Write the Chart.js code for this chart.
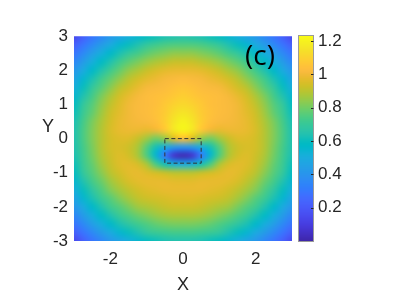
<!DOCTYPE html>
<html>
<head>
<meta charset="utf-8">
<script src="https://cdn.jsdelivr.net/npm/chart.js@4.4.1/dist/chart.umd.min.js"></script>
<style>
  html, body { margin: 0; padding: 0; background: #fff; }
  #wrap { width: 395px; height: 297px; }
</style>
</head>
<body>
<div id="wrap"><canvas id="chart" width="395" height="297"></canvas></div>
<script>
// ================================================
// Data
// ================================================

// grid nodes, x left->right, y top->bottom
const xNodes = [-3, -2.75, -2.5, -2.25, -2, -1.75, -1.5, -1.25, -1, -0.75, -0.5, -0.25, 0,
                0.25, 0.5, 0.75, 1, 1.25, 1.5, 1.75, 2, 2.25, 2.5, 2.75, 3];
const yNodes = [3, 2.75, 2.5, 2.25, 2, 1.75, 1.5, 1.25, 1, 0.75, 0.5, 0.25, 0,
                -0.25, -0.5, -0.75, -1, -1.25, -1.5, -1.75, -2, -2.25, -2.5, -2.75, -3];

// field value at each node, one row per yNodes entry
const field = [
  [0.14,0.22,0.29,0.35,0.41,0.46,0.51,0.55,0.59,0.61,0.63,0.64,0.65,0.64,0.63,0.61,0.59,0.55,0.51,0.46,0.41,0.35,0.29,0.22,0.14],
  [0.22,0.29,0.36,0.43,0.49,0.55,0.60,0.64,0.69,0.72,0.74,0.75,0.75,0.75,0.74,0.72,0.69,0.64,0.60,0.55,0.49,0.43,0.36,0.29,0.22],
  [0.29,0.36,0.44,0.51,0.57,0.63,0.69,0.73,0.77,0.80,0.82,0.84,0.84,0.84,0.82,0.80,0.77,0.73,0.69,0.63,0.57,0.51,0.44,0.36,0.29],
  [0.35,0.43,0.51,0.58,0.64,0.72,0.77,0.81,0.85,0.88,0.90,0.92,0.92,0.92,0.90,0.88,0.85,0.81,0.77,0.72,0.64,0.58,0.51,0.43,0.35],
  [0.41,0.49,0.57,0.64,0.72,0.78,0.84,0.88,0.92,0.95,0.97,0.98,0.98,0.98,0.97,0.95,0.92,0.88,0.84,0.78,0.72,0.64,0.57,0.49,0.41],
  [0.46,0.55,0.63,0.72,0.78,0.84,0.90,0.94,0.97,0.99,1.01,1.02,1.03,1.02,1.01,0.99,0.97,0.94,0.90,0.84,0.78,0.72,0.63,0.55,0.46],
  [0.51,0.60,0.69,0.76,0.83,0.90,0.94,0.98,1.01,1.02,1.03,1.05,1.06,1.05,1.03,1.02,1.01,0.98,0.94,0.90,0.83,0.76,0.69,0.60,0.51],
  [0.55,0.64,0.73,0.81,0.88,0.94,0.98,1.01,1.03,1.04,1.05,1.07,1.09,1.07,1.05,1.04,1.03,1.01,0.98,0.94,0.88,0.81,0.73,0.64,0.55],
  [0.59,0.69,0.76,0.84,0.91,0.96,1.00,1.02,1.03,1.04,1.07,1.10,1.12,1.10,1.07,1.04,1.03,1.02,1.00,0.96,0.91,0.84,0.76,0.69,0.59],
  [0.61,0.71,0.78,0.86,0.93,0.97,1.00,1.02,1.03,1.05,1.08,1.13,1.16,1.13,1.08,1.05,1.03,1.02,1.00,0.97,0.93,0.86,0.78,0.71,0.61],
  [0.63,0.73,0.81,0.88,0.94,0.98,1.00,1.01,1.02,1.04,1.09,1.16,1.20,1.16,1.09,1.04,1.02,1.01,1.00,0.98,0.94,0.88,0.81,0.73,0.63],
  [0.64,0.74,0.82,0.89,0.95,0.98,0.99,0.99,0.98,1.00,1.07,1.17,1.21,1.17,1.07,1.00,0.98,0.99,0.99,0.98,0.95,0.89,0.82,0.74,0.64],
  [0.64,0.74,0.82,0.89,0.94,0.96,0.96,0.92,0.86,0.80,0.85,0.96,1.04,0.96,0.85,0.80,0.86,0.92,0.96,0.96,0.94,0.89,0.82,0.74,0.64],
  [0.64,0.73,0.81,0.89,0.94,0.95,0.93,0.88,0.76,0.62,0.50,0.42,0.40,0.42,0.50,0.62,0.76,0.88,0.93,0.95,0.94,0.89,0.81,0.73,0.64],
  [0.63,0.72,0.80,0.88,0.93,0.96,0.94,0.88,0.75,0.55,0.30,0.06,0.02,0.06,0.30,0.55,0.75,0.88,0.94,0.96,0.93,0.88,0.80,0.72,0.63],
  [0.61,0.71,0.78,0.86,0.92,0.96,0.97,0.95,0.88,0.74,0.62,0.52,0.50,0.52,0.62,0.74,0.88,0.95,0.97,0.96,0.92,0.86,0.78,0.71,0.61],
  [0.59,0.69,0.76,0.83,0.90,0.94,0.97,0.98,0.96,0.94,0.92,0.90,0.90,0.90,0.92,0.94,0.96,0.98,0.97,0.94,0.90,0.83,0.76,0.69,0.59],
  [0.55,0.64,0.73,0.79,0.86,0.91,0.95,0.97,0.98,0.98,0.98,0.97,0.97,0.97,0.98,0.98,0.98,0.97,0.95,0.91,0.86,0.79,0.73,0.64,0.55],
  [0.51,0.60,0.68,0.75,0.82,0.87,0.91,0.94,0.96,0.97,0.98,0.98,0.98,0.98,0.98,0.97,0.96,0.94,0.91,0.87,0.82,0.75,0.68,0.60,0.51],
  [0.46,0.55,0.63,0.71,0.76,0.82,0.87,0.91,0.93,0.94,0.95,0.96,0.96,0.96,0.95,0.94,0.93,0.91,0.87,0.82,0.76,0.71,0.63,0.55,0.46],
  [0.41,0.49,0.57,0.64,0.72,0.76,0.81,0.86,0.88,0.90,0.92,0.93,0.93,0.93,0.92,0.90,0.88,0.86,0.81,0.76,0.72,0.64,0.57,0.49,0.41],
  [0.35,0.43,0.51,0.58,0.64,0.71,0.75,0.79,0.82,0.85,0.87,0.88,0.88,0.88,0.87,0.85,0.82,0.79,0.75,0.71,0.64,0.58,0.51,0.43,0.35],
  [0.29,0.36,0.44,0.51,0.57,0.63,0.68,0.72,0.75,0.78,0.80,0.81,0.81,0.81,0.80,0.78,0.75,0.72,0.68,0.63,0.57,0.51,0.44,0.36,0.29],
  [0.22,0.29,0.36,0.43,0.49,0.55,0.60,0.64,0.69,0.71,0.72,0.73,0.73,0.73,0.72,0.71,0.69,0.64,0.60,0.55,0.49,0.43,0.36,0.29,0.22],
  [0.14,0.22,0.29,0.35,0.41,0.46,0.51,0.55,0.59,0.61,0.63,0.64,0.64,0.64,0.63,0.61,0.59,0.55,0.51,0.46,0.41,0.35,0.29,0.22,0.14]
];

const xTicks = [-2, 0, 2];
const yTicks = [-3, -2, -1, 0, 1, 2, 3];
const cbTicks = [0.2, 0.4, 0.6, 0.8, 1, 1.2];
const cbRange = [0, 1.23];

// dashed box corners
const boxX = [-0.5, 0.5];
const boxY = [-0.72, 0];

const panelLabel = '(c)';

// ================================================
// Parula colormap (R2017a+)
// ================================================

const PARULA = [
  [0.2422,0.1504,0.6603],[0.2504,0.1650,0.7076],[0.2578,0.1818,0.7511],[0.2647,0.1978,0.7952],
  [0.2706,0.2147,0.8364],[0.2751,0.2342,0.8710],[0.2783,0.2559,0.8991],[0.2803,0.2782,0.9221],
  [0.2813,0.3006,0.9414],[0.2810,0.3228,0.9579],[0.2795,0.3447,0.9717],[0.2760,0.3667,0.9829],
  [0.2699,0.3892,0.9906],[0.2602,0.4123,0.9952],[0.2440,0.4358,0.9988],[0.2206,0.4603,0.9973],
  [0.1963,0.4847,0.9892],[0.1834,0.5074,0.9798],[0.1786,0.5289,0.9682],[0.1764,0.5499,0.9520],
  [0.1687,0.5703,0.9359],[0.1540,0.5902,0.9218],[0.1460,0.6091,0.9079],[0.1380,0.6276,0.8973],
  [0.1248,0.6459,0.8883],[0.1113,0.6635,0.8763],[0.0952,0.6798,0.8598],[0.0689,0.6948,0.8394],
  [0.0297,0.7082,0.8163],[0.0036,0.7203,0.7917],[0.0067,0.7312,0.7660],[0.0433,0.7411,0.7394],
  [0.0964,0.7500,0.7120],[0.1408,0.7584,0.6842],[0.1717,0.7670,0.6554],[0.1938,0.7758,0.6251],
  [0.2161,0.7843,0.5923],[0.2470,0.7918,0.5567],[0.2906,0.7973,0.5188],[0.3406,0.8008,0.4789],
  [0.3909,0.8029,0.4354],[0.4456,0.8024,0.3909],[0.5044,0.7993,0.3480],[0.5616,0.7942,0.3045],
  [0.6174,0.7876,0.2612],[0.6720,0.7793,0.2227],[0.7242,0.7698,0.1910],[0.7738,0.7598,0.1646],
  [0.8203,0.7498,0.1535],[0.8634,0.7406,0.1596],[0.9035,0.7330,0.1774],[0.9393,0.7288,0.2100],
  [0.9728,0.7298,0.2394],[0.9956,0.7434,0.2371],[0.9970,0.7659,0.2199],[0.9952,0.7893,0.2028],
  [0.9892,0.8136,0.1885],[0.9786,0.8386,0.1766],[0.9676,0.8639,0.1643],[0.9610,0.8890,0.1537],
  [0.9597,0.9135,0.1423],[0.9628,0.9373,0.1265],[0.9691,0.9606,0.1064],[0.9769,0.9839,0.0805]
];

function parula(v) {
  let t = (v - cbRange[0]) / (cbRange[1] - cbRange[0]);
  t = Math.min(1, Math.max(0, t)) * (PARULA.length - 1);
  const i = Math.min(PARULA.length - 2, Math.floor(t));
  const f = t - i;
  return PARULA[i].map((c, k) => Math.round(255 * (c + (PARULA[i + 1][k] - c) * f)));
}

// ================================================
// Plugins
// ================================================

const TEXT = '#262626';
const FONT = '"Liberation Sans", Arial, Helvetica, sans-serif';

// smooth image of the field, placed with the x/y scales
const heatmapPlugin = {
  id: 'heatmap',
  beforeDatasetsDraw(chart) {
    const { ctx, chartArea, scales } = chart;
    const nx = xNodes.length, ny = yNodes.length;
    const off = document.createElement('canvas');
    off.width = nx;
    off.height = ny;
    const octx = off.getContext('2d');
    const img = octx.createImageData(nx, ny);
    field.forEach((row, j) => {
      row.forEach((v, i) => {
        const c = parula(v);
        const k = (j * nx + i) * 4;
        img.data[k] = c[0];
        img.data[k + 1] = c[1];
        img.data[k + 2] = c[2];
        img.data[k + 3] = 255;
      });
    });
    octx.putImageData(img, 0, 0);

    const hx = (xNodes[1] - xNodes[0]) / 2;
    const hy = (yNodes[0] - yNodes[1]) / 2;
    const left = scales.x.getPixelForValue(xNodes[0] - hx);
    const right = scales.x.getPixelForValue(xNodes[nx - 1] + hx);
    const top = scales.y.getPixelForValue(yNodes[0] + hy);
    const bottom = scales.y.getPixelForValue(yNodes[ny - 1] - hy);

    ctx.save();
    ctx.beginPath();
    ctx.rect(chartArea.left, chartArea.top, chartArea.width, chartArea.height);
    ctx.clip();
    ctx.imageSmoothingEnabled = true;
    ctx.imageSmoothingQuality = 'high';
    ctx.drawImage(off, left, top, right - left, bottom - top);

    // dashed box
    const bx0 = scales.x.getPixelForValue(boxX[0]);
    const bx1 = scales.x.getPixelForValue(boxX[1]);
    const by0 = scales.y.getPixelForValue(boxY[1]);
    const by1 = scales.y.getPixelForValue(boxY[0]);
    ctx.strokeStyle = '#333333';
    ctx.lineWidth = 1;
    ctx.setLineDash([4, 2.5]);
    ctx.strokeRect(bx0, by0, bx1 - bx0, by1 - by0);
    ctx.restore();
  }
};

// colour bar strip, titles and panel label
const decorPlugin = {
  id: 'decor',
  afterDraw(chart) {
    const { ctx, chartArea, scales } = chart;
    const cb = scales.cb;
    const x0 = cb.left + 7;
    const w = 14;

    ctx.save();
    for (let py = Math.floor(cb.top); py < Math.ceil(cb.bottom); py++) {
      const c = parula(cb.getValueForPixel(py + 0.5));
      ctx.fillStyle = `rgb(${c[0]},${c[1]},${c[2]})`;
      ctx.fillRect(x0, py, w, 1);
    }
    ctx.strokeStyle = '#9a9a9a';
    ctx.lineWidth = 1;
    ctx.strokeRect(x0 - 0.5, Math.floor(cb.top) - 0.5, w + 1, Math.ceil(cb.bottom) - Math.floor(cb.top) + 1);

    // small inward ticks on the right edge
    ctx.strokeStyle = TEXT;
    cbTicks.forEach(v => {
      const py = Math.round(cb.getPixelForValue(v)) + 0.5;
      ctx.beginPath();
      ctx.moveTo(x0 + w + 0.5, py);
      ctx.lineTo(x0 + w - 2, py);
      ctx.stroke();
    });

    // axis titles
    ctx.fillStyle = TEXT;
    ctx.font = '18px ' + FONT;
    ctx.textAlign = 'center';
    ctx.textBaseline = 'middle';
    ctx.fillText('Y', chartArea.left - 26, chartArea.top + chartArea.height * 0.445);
    ctx.fillText('X', (chartArea.left + chartArea.right) / 2, chartArea.bottom + 44);

    // panel label
    ctx.fillStyle = '#000000';
    ctx.font = '28px "Open Sans", "Noto Sans", sans-serif';
    ctx.fillText(panelLabel, chartArea.right - 32, chartArea.top + 21);
    ctx.restore();
  }
};

// ================================================
// Chart
// ================================================

function fixedTicks(list) {
  return function(scale) {
    scale.ticks = list.map(v => ({ value: v }));
  };
}

new Chart(document.getElementById('chart'), {
  type: 'scatter',
  data: { datasets: [] },
  options: {
    responsive: false,
    animation: false,
    devicePixelRatio: 1,
    layout: { padding: { top: 23, left: 0, right: 0, bottom: 0 } },
    plugins: {
      legend: { display: false },
      tooltip: { enabled: false }
    },
    scales: {
      x: {
        type: 'linear',
        min: -3,
        max: 3,
        afterBuildTicks: fixedTicks(xTicks),
        afterFit(scale) { scale.height = 56; },
        grid: { display: false, drawTicks: false },
        border: { display: false },
        ticks: {
          color: TEXT,
          padding: 8,
          font: { family: FONT, size: 17 }
        }
      },
      y: {
        type: 'linear',
        min: -3,
        max: 3,
        afterBuildTicks: fixedTicks(yTicks),
        afterFit(scale) { scale.width = 74; },
        grid: { display: false, drawTicks: false },
        border: { display: false },
        ticks: {
          color: TEXT,
          padding: 6,
          font: { family: FONT, size: 17 }
        }
      },
      cb: {
        type: 'linear',
        display: true,
        position: 'right',
        min: cbRange[0],
        max: cbRange[1],
        afterBuildTicks: fixedTicks(cbTicks),
        afterFit(scale) { scale.width = 103; },
        grid: { display: false, drawTicks: false },
        border: { display: false },
        ticks: {
          color: TEXT,
          padding: 26,
          font: { family: FONT, size: 17 },
          callback: v => String(v)
        }
      }
    }
  },
  plugins: [heatmapPlugin, decorPlugin]
});
</script>
</body>
</html>
